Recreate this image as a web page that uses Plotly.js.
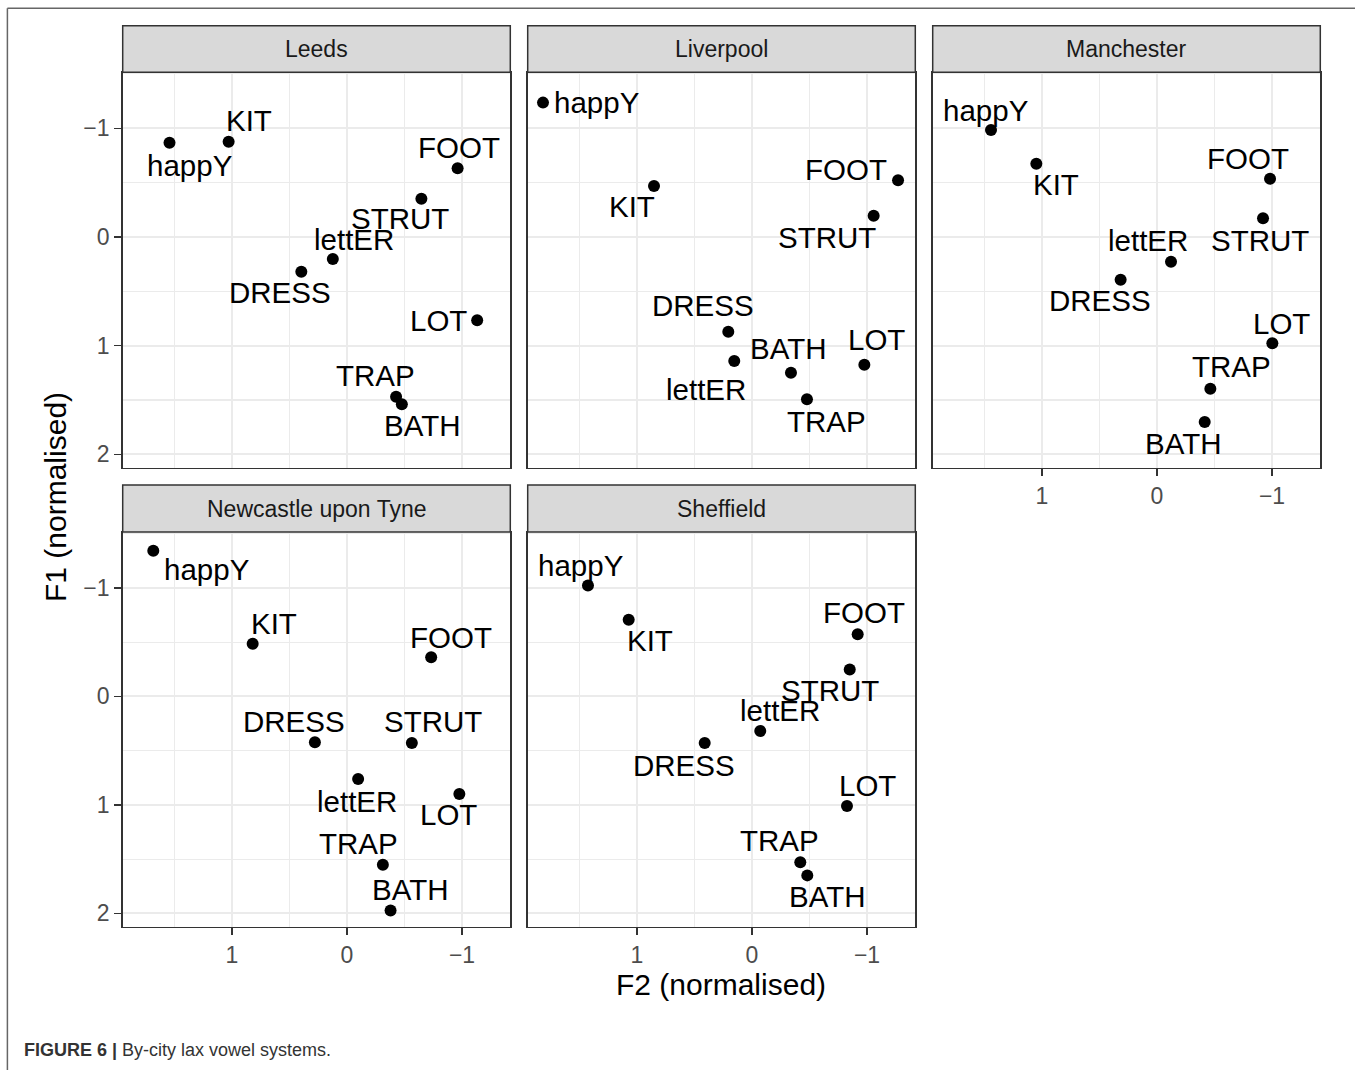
<!DOCTYPE html>
<html>
<head>
<meta charset="utf-8">
<script src="https://cdn.plot.ly/plotly-3.0.1.min.js"></script>
<style>
  html, body { margin: 0; padding: 0; background: #ffffff; }
  #chart { width: 1355px; height: 1070px; }
</style>
</head>
<body>
<div id="chart"></div>
<script>
// Lax vowel means per city (normalised F2 on x, normalised F1 on y)
const vowels = ['happY', 'KIT', 'DRESS', 'TRAP', 'BATH', 'LOT', 'STRUT', 'FOOT', 'lettER'];
const cities = ['Leeds', 'Liverpool', 'Manchester', 'Newcastle upon Tyne', 'Sheffield'];

const leedsF2 = [1.543, 1.029, 0.397, -0.427, -0.477, -1.132, -0.647, -0.962, 0.123];
const leedsF1 = [-0.867, -0.877, 0.320, 1.470, 1.540, 0.767, -0.352, -0.632, 0.203];

const liverpoolF2 = [1.817, 0.852, 0.206, -0.478, -0.339, -0.977, -1.058, -1.270, 0.154];
const liverpoolF1 = [-1.236, -0.469, 0.872, 1.494, 1.249, 1.175, -0.196, -0.521, 1.141];

const manchesterF2 = [1.443, 1.049, 0.316, -0.464, -0.415, -1.003, -0.922, -0.983, -0.122];
const manchesterF1 = [-0.984, -0.674, 0.393, 1.396, 1.703, 0.978, -0.172, -0.536, 0.228];

const newcastleF2 = [1.684, 0.820, 0.279, -0.312, -0.379, -0.977, -0.564, -0.732, -0.097];
const newcastleF1 = [-1.342, -0.484, 0.422, 1.551, 1.974, 0.899, 0.429, -0.361, 0.761];

const sheffieldF2 = [1.426, 1.072, 0.411, -0.420, -0.481, -0.826, -0.850, -0.919, -0.072];
const sheffieldF1 = [-1.021, -0.706, 0.430, 1.528, 1.650, 1.010, -0.248, -0.573, 0.320];

const xTicks = [1, 0, -1];
const yTicks = [-1, 0, 1, 2];

const f2ByCity = [leedsF2, liverpoolF2, manchesterF2, newcastleF2, sheffieldF2];
const f1ByCity = [leedsF1, liverpoolF1, manchesterF1, newcastleF1, sheffieldF1];

// Repelled label placement: pixel nudges [right, down] from each point
const labelNudge = [
  [[20, 23], [20, -21], [-21, 21], [-21, -21], [21, 21], [-39, 0], [-21, 20], [1, -21], [21, -20]],
  [[54, 0], [-22, 21], [-25, -26], [20, 22], [-2, -24], [12, -25], [-47, 22], [-52, -11], [-28, 29]],
  [[-5, -20], [20, 21], [-21, 21], [21, -22], [-21, 21], [9, -20], [-3, 22], [-22, -20], [-23, -21]],
  [[54, 19], [21, -20], [-21, -21], [-24, -21], [20, -21], [-11, 21], [21, -21], [20, -20], [-1, 23]],
  [[-7, -20], [21, 21], [-21, 22], [-21, -22], [20, 21], [21, -20], [-20, 21], [6, -22], [20, -21]]
];

// ---- page geometry (pixels) ----
const W = 1355, H = 1070;
const FONT = 'Liberation Sans, Arial, Helvetica, sans-serif';
const colPx = [[122.7, 510.3], [527.7, 915.3], [932.7, 1320.3]];
const rowPx = [[72.3, 467.7], [532, 926.7]];
const stripPx = [[25.7, 72.3], [485, 532]];
// panel -> [row, col]
const cell = [[0, 0], [0, 1], [0, 2], [1, 0], [1, 1]];
// which panels carry tick labels
const showX = [false, false, true, true, true];
const showY = [true, false, false, true, false];

const px2x = p => p / W;
const px2y = p => 1 - p / H;

const layout = {
  width: W, height: H,
  margin: {l: 0, r: 0, t: 0, b: 0},
  paper_bgcolor: '#ffffff',
  plot_bgcolor: '#ffffff',
  showlegend: false,
  font: {family: FONT},
  shapes: [],
  annotations: []
};

const traces = [];

cities.forEach((city, i) => {
  const [r, c] = cell[i];
  const sfx = i === 0 ? '' : String(i + 1);
  const xa = 'xaxis' + sfx, ya = 'yaxis' + sfx;
  const xr = 'x' + sfx, yr = 'y' + sfx;

  const common = {
    showline: true, mirror: true, linecolor: '#333333', linewidth: 1.5,
    showgrid: true, gridcolor: '#ebebeb', gridwidth: 2,
    zeroline: false,
    tickfont: {family: FONT, size: 23, color: '#4d4d4d'},
    tickcolor: '#333333', tickwidth: 1.5, ticklen: 7,
    minor: {dtick: 0.5, tick0: 0, showgrid: true, gridcolor: '#ebebeb', gridwidth: 1.1, ticks: ''},
    fixedrange: true
  };

  layout[xa] = Object.assign({}, common, {
    domain: [px2x(colPx[c][0]), px2x(colPx[c][1])],
    range: [1.95, -1.42],
    anchor: yr,
    tickmode: 'array', tickvals: xTicks, ticktext: xTicks.map(v => v < 0 ? '\u2212' + Math.abs(v) : String(v)),
    ticks: showX[i] ? 'outside' : '',
    showticklabels: showX[i]
  });
  layout[ya] = Object.assign({}, common, {
    domain: [px2y(rowPx[r][1]), px2y(rowPx[r][0])],
    range: [2.123, -1.515],
    anchor: xr,
    tickmode: 'array', tickvals: yTicks, ticktext: yTicks.map(v => v < 0 ? '\u2212' + Math.abs(v) : String(v)),
    ticks: showY[i] ? 'outside' : '',
    showticklabels: showY[i]
  });

  traces.push({
    type: 'scatter', mode: 'markers',
    x: f2ByCity[i], y: f1ByCity[i],
    xaxis: xr, yaxis: yr,
    marker: {size: 12, color: '#000000'},
    hoverinfo: 'skip'
  });

  // vowel labels
  vowels.forEach((v, k) => {
    layout.annotations.push({
      xref: xr, yref: yr,
      x: f2ByCity[i][k], y: f1ByCity[i][k],
      text: v, showarrow: false,
      xanchor: 'center', yanchor: 'middle',
      xshift: labelNudge[i][k][0], yshift: -labelNudge[i][k][1],
      font: {family: FONT, size: 29.5, color: '#000000'}
    });
  });

  // facet strip
  layout.shapes.push({
    type: 'rect', xref: 'paper', yref: 'paper', layer: 'above',
    x0: px2x(colPx[c][0]), x1: px2x(colPx[c][1]),
    y0: px2y(stripPx[r][1]), y1: px2y(stripPx[r][0]),
    fillcolor: '#d9d9d9', line: {color: '#333333', width: 1.5}
  });
  layout.annotations.push({
    xref: 'paper', yref: 'paper',
    x: px2x((colPx[c][0] + colPx[c][1]) / 2),
    y: px2y((stripPx[r][0] + stripPx[r][1]) / 2),
    text: city, showarrow: false, xanchor: 'center', yanchor: 'middle',
    font: {family: FONT, size: 23, color: '#1a1a1a'}
  });
});

// axis titles
layout.annotations.push({
  xref: 'paper', yref: 'paper', x: px2x(55), y: px2y(497),
  text: 'F1 (normalised)', textangle: -90, showarrow: false,
  xanchor: 'center', yanchor: 'middle',
  font: {family: FONT, size: 30, color: '#000000'}
});
layout.annotations.push({
  xref: 'paper', yref: 'paper', x: px2x(721), y: px2y(984),
  text: 'F2 (normalised)', showarrow: false,
  xanchor: 'center', yanchor: 'middle',
  font: {family: FONT, size: 30, color: '#000000'}
});

// figure caption
layout.annotations.push({
  xref: 'paper', yref: 'paper', x: px2x(22), y: px2y(1050),
  text: '<b>FIGURE 6 |</b> By-city lax vowel systems.', showarrow: false,
  xanchor: 'left', yanchor: 'middle',
  font: {family: FONT, size: 18, color: '#333333'}
});

// outer frame (top and left rules)
layout.shapes.push({
  type: 'line', xref: 'paper', yref: 'paper',
  x0: px2x(7.4), x1: 1, y0: px2y(8.3), y1: px2y(8.3),
  line: {color: '#666666', width: 1.5}
});
layout.shapes.push({
  type: 'line', xref: 'paper', yref: 'paper',
  x0: px2x(7.4), x1: px2x(7.4), y0: px2y(8.3), y1: 0,
  line: {color: '#666666', width: 1.5}
});

Plotly.newPlot('chart', traces, layout, {displayModeBar: false, staticPlot: true});
</script>
</body>
</html>
